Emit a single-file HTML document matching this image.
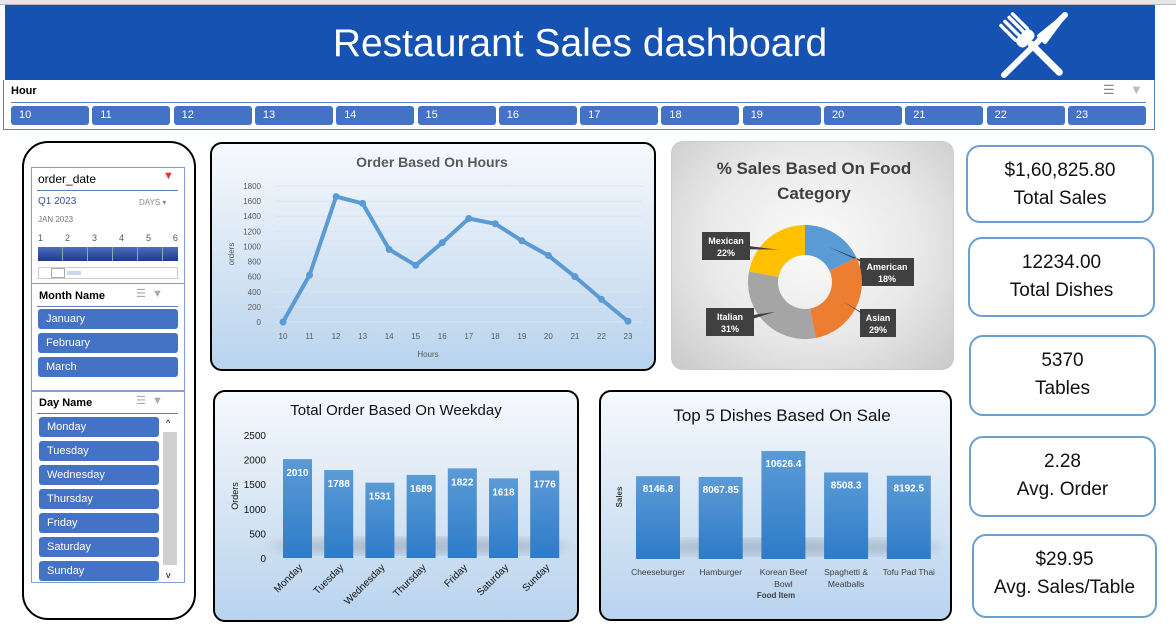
<!DOCTYPE html>
<html><head><meta charset="utf-8">
<style>
*{box-sizing:border-box;margin:0;padding:0}
body{width:1176px;height:632px;background:#fff;font-family:"Liberation Sans",sans-serif;position:relative;overflow:hidden}
.abs{position:absolute}
.btn{position:absolute;background:#4472c4;color:#fff;font-size:11px;border-radius:3px;padding-left:8px}
.kpi{position:absolute;border:2px solid #6a9fd0;border-radius:14px;text-align:center;font-size:19px;color:#111;line-height:28px;padding-top:10px}
.card{position:absolute;border:2px solid #000;border-radius:12px;background:linear-gradient(#f6f9fd,#dbe8f5 45%,#b8d3ee)}
.slabel{font-size:11px;font-weight:bold}
</style></head>
<body>
<div class="abs" style="left:0;top:0;width:1176px;height:5px;background:#e6e6e6;border-bottom:1px solid #bbb"></div>
<div class="abs" style="left:5px;top:5px;width:1150px;height:75px;background:#1652b2"></div>
<div class="abs" style="left:5px;top:19px;width:1150px;text-align:center;color:#fff;font-size:39px;line-height:50px">Restaurant Sales dashboard</div>
<svg class="abs" style="left:995px;top:8px" width="80" height="72" viewBox="0 0 80 72">
<g fill="#fff" stroke="#fff" stroke-linecap="round">
<line x1="70" y1="7" x2="9" y2="67" stroke-width="6"/>
<path d="M70 7 L50 34 L44 28 Z" stroke-width="4" stroke-linejoin="round"/>
<g transform="translate(36,36) rotate(-45)">
<line x1="0" y1="0" x2="0" y2="40" stroke-width="7"/>
<rect x="-10" y="-14" width="20" height="12" rx="5" stroke="none"/>
<rect x="-10" y="-36" width="3.5" height="24" rx="1.5" stroke="none"/>
<rect x="-4.2" y="-36" width="3.5" height="24" rx="1.5" stroke="none"/>
<rect x="1.6" y="-36" width="3.5" height="24" rx="1.5" stroke="none"/>
<rect x="6.5" y="-36" width="3.5" height="24" rx="1.5" stroke="none"/>
</g>
</g></svg>

<div class="abs" style="left:3px;top:80px;width:1152px;height:50px;border:1px solid #5b7fb8;border-top:none;background:#fff"></div>
<div class="abs slabel" style="left:11px;top:85px">Hour</div>
<div class="abs" style="left:1103px;top:82px;font-size:13px;color:#888">☰</div>
<div class="abs" style="left:1130px;top:82px;font-size:13px;color:#bbb">▼</div>
<div class="abs" style="left:11px;top:102px;width:1135px;height:1px;background:#5b7fb8"></div>
<div id="hours"></div>

<div class="abs" style="left:22px;top:141px;width:174px;height:479px;border:2px solid #000;border-radius:26px"></div>
<div class="abs" style="left:31px;top:167px;width:154px;height:117px;border:1px solid #7f9fd0"></div>
<div class="abs" style="left:38px;top:172px;font-size:12px">order_date</div>
<div class="abs" style="left:163px;top:170px;font-size:11px;color:#d33">▼</div>
<div class="abs" style="left:37px;top:190px;width:141px;height:1px;background:#5b7fb8"></div>
<div class="abs" style="left:38px;top:196px;font-size:10px;color:#2f5597">Q1 2023</div>
<div class="abs" style="left:139px;top:198px;font-size:8px;color:#888">DAYS ▾</div>
<div class="abs" style="left:38px;top:215px;font-size:8px;color:#777">JAN 2023</div>
<div class="abs" style="left:38px;top:233px;width:140px;font-size:9px;color:#555;display:flex;justify-content:space-between"><span>1</span><span>2</span><span>3</span><span>4</span><span>5</span><span>6</span></div>
<div class="abs" style="left:38px;top:247px;width:140px;height:14px;background:linear-gradient(#4a6fc0,#1e3a8a);background-image:linear-gradient(90deg,transparent 24px,#8aa 24px,#8aa 25px,transparent 25px),linear-gradient(#4a6fc0,#1e3a8a);background-size:25px 14px,100% 100%"></div>
<div class="abs" style="left:38px;top:267px;width:140px;height:12px;border:1px solid #ccc"><div style="position:absolute;left:12px;top:0;width:14px;height:10px;border:1px solid #aaa;background:#fff"></div><div style="position:absolute;left:28px;top:3px;width:14px;height:4px;background:#c8d8f0"></div></div>

<div class="abs" style="left:31px;top:284px;width:154px;height:107px;border:1px solid #7f9fd0;border-top:none"></div>
<div class="abs slabel" style="left:39px;top:290px">Month Name</div>
<div class="abs" style="left:136px;top:287px;font-size:11px;color:#aaa">☰ &nbsp;▼</div>
<div class="abs" style="left:37px;top:306px;width:141px;height:1px;background:#5b7fb8"></div>
<div id="months"></div>

<div class="abs" style="left:31px;top:391px;width:154px;height:192px;border:1px solid #7f9fd0"></div>
<div class="abs slabel" style="left:39px;top:397px">Day Name</div>
<div class="abs" style="left:136px;top:394px;font-size:11px;color:#aaa">☰ &nbsp;▼</div>
<div class="abs" style="left:37px;top:413px;width:141px;height:1px;background:#5b7fb8"></div>
<div class="abs" style="left:163px;top:418px;width:14px;height:162px;background:#fff"><div style="position:absolute;top:14px;left:0;width:14px;height:133px;background:#d0d0d0"></div><div style="position:absolute;top:0;left:3px;font-size:9px">^</div><div style="position:absolute;bottom:0;left:3px;font-size:9px">v</div></div>
<div id="days"></div>

<div class="card" style="left:210px;top:142px;width:446px;height:229px"></div>
<div class="card" style="left:671px;top:141px;width:283px;height:229px;border:1px solid #ccc;background:radial-gradient(ellipse at 50% 45%,#fbfbfb,#e8e8e8 55%,#c9c9c9)"></div>
<div class="card" style="left:213px;top:390px;width:366px;height:232px"></div>
<div class="card" style="left:599px;top:390px;width:353px;height:231px"></div>

<svg id="charts" class="abs" style="left:0;top:0" width="1176" height="632"></svg>

<div class="kpi" style="left:966px;top:145px;width:188px;height:78px">$1,60,825.80<br>Total Sales</div>
<div class="kpi" style="left:968px;top:237px;width:187px;height:80px">12234.00<br>Total Dishes</div>
<div class="kpi" style="left:969px;top:335px;width:187px;height:81px">5370<br>Tables</div>
<div class="kpi" style="left:969px;top:436px;width:187px;height:81px">2.28<br>Avg. Order</div>
<div class="kpi" style="left:972px;top:534px;width:185px;height:84px">$29.95<br>Avg. Sales/Table</div>

<script>
const hourCats=[10,11,12,13,14,15,16,17,18,19,20,21,22,23];
const hourOrders=[0,620,1660,1570,960,750,1050,1370,1300,1075,880,600,300,10];
const hourTicks=[0,200,400,600,800,1000,1200,1400,1600,1800];
const dayCats=["Monday","Tuesday","Wednesday","Thursday","Friday","Saturday","Sunday"];
const dayOrders=[2010,1788,1531,1689,1822,1618,1776];
const dayTicks=[0,500,1000,1500,2000,2500];
const dishCats=[["Cheeseburger"],["Hamburger"],["Korean Beef","Bowl"],["Spaghetti &","Meatballs"],["Tofu Pad Thai"]];
const dishSales=[8146.8,8067.85,10626.4,8508.3,8192.5];
const dishLabels=["8146.8","8067.85","10626.4","8508.3","8192.5"];
const pieCats=["American","Asian","Italian","Mexican"];
const piePct=[18,29,31,22];
const monthCats=["January","February","March"];

const NS="http://www.w3.org/2000/svg";
const svg=document.getElementById('charts');
function mk(tag,attrs,parent,text){const e=document.createElementNS(NS,tag);for(const k in attrs)e.setAttribute(k,attrs[k]);if(text!==undefined)e.textContent=text;(parent||svg).appendChild(e);return e;}

const hc=document.getElementById('hours');
hourCats.forEach((h,i)=>{const d=document.createElement('div');d.className='btn';


d.style.cssText=`left:${11+i*81.3}px;top:106px;width:78px;height:19px;line-height:19px`;d.textContent=h;hc.appendChild(d);});
const mc=document.getElementById('months');
monthCats.forEach((m,i)=>{const d=document.createElement('div');d.className='btn';


d.style.cssText=`left:38px;top:${309+i*24}px;width:140px;height:20px;line-height:20px`;d.textContent=m;mc.appendChild(d);});
const dc=document.getElementById('days');
dayCats.forEach((m,i)=>{const d=document.createElement('div');d.className='btn';


d.style.cssText=`left:39px;top:${417+i*24}px;width:120px;height:20px;line-height:20px`;d.textContent=m;dc.appendChild(d);});

const defs=mk('defs',{});
const lg=mk('linearGradient',{id:'barg',x1:0,y1:0,x2:0,y2:1},defs);
mk('stop',{offset:'0','stop-color':'#5b9bd5'},lg);mk('stop',{offset:'1','stop-color':'#2e7bc9'},lg);
const sh=mk('filter',{id:'blur'},defs);mk('feGaussianBlur',{stdDeviation:'5'},sh);

const hg=mk('g',{});


mk('text',{x:432,y:167,'text-anchor':'middle','font-size':14,'font-weight':'bold',fill:'#595959'},hg,'Order Based On Hours');
const hx=i=>283+i*(628-283)/13, hy=v=>322-v*(136/1800);
hourTicks.forEach(t=>{mk('line',{x1:275,x2:642,y1:hy(t),y2:hy(t),stroke:'#d9e4f0','stroke-width':1},hg);
mk('text',{x:261,y:hy(t)+3,'text-anchor':'end','font-size':8,fill:'#595959'},hg,t);});
hourCats.forEach((c,i)=>mk('text',{x:hx(i),y:339,'text-anchor':'middle','font-size':8,fill:'#595959'},hg,c));
mk('text',{x:428,y:357,'text-anchor':'middle','font-size':8,fill:'#595959'},hg,'Hours');
mk('text',{x:234,y:254,'text-anchor':'middle','font-size':8,fill:'#595959',transform:'rotate(-90 234 254)'},hg,'orders');
const pts=hourOrders.map((v,i)=>hx(i)+','+hy(v)).join(' ');
const pl=mk('polyline',{points:pts,fill:'none',stroke:'#5b9bd5','stroke-width':4,'stroke-linejoin':'round'},hg);

hourOrders.forEach((v,i)=>{const c=mk('circle',{cx:hx(i),cy:hy(v),r:3.5,fill:'#5b9bd5'},hg);

});

const pg=mk('g',{});


mk('text',{x:814,y:174,'text-anchor':'middle','font-size':17,'font-weight':'bold',fill:'#404040'},pg,'% Sales Based On Food');
mk('text',{x:814,y:199,'text-anchor':'middle','font-size':17,'font-weight':'bold',fill:'#404040'},pg,'Category');
const colors=['#5b9bd5','#ed7d31','#a5a5a5','#ffc000'];
const cx=805,cy=282,R=57,r0=27;
const tot=piePct.reduce((a,b)=>a+b,0);let a0=0;
const labPos=[[887,272],[878,323],[730,322],[726,246]];
piePct.forEach((p,i)=>{const a1=a0+p/tot*2*Math.PI;
const P=(a,rr)=>[cx+rr*Math.sin(a),cy-rr*Math.cos(a)];
const [x1,y1]=P(a0,R),[x2,y2]=P(a1,R),[x3,y3]=P(a1,r0),[x4,y4]=P(a0,r0);const lf=(a1-a0)>Math.PI?1:0;
const s=mk('path',{d:`M${x1},${y1}A${R},${R} 0 ${lf} 1 ${x2},${y2}L${x3},${y3}A${r0},${r0} 0 ${lf} 0 ${x4},${y4}Z`,fill:colors[i]},pg);


const [mx,my]=P((a0+a1)/2,(R+r0)/2);const [lx,ly]=labPos[i];
mk('path',{d:`M${mx},${my}L${lx-3},${ly-3}L${lx+3},${ly+3}Z`,fill:'#404040'},pg);
const w=pieCats[i].length*6+6;
mk('rect',{x:lx-w/2,y:ly-14,width:w,height:28,fill:'#404040'},pg);
mk('text',{x:lx,y:ly-2,'text-anchor':'middle','font-size':9,'font-weight':'bold',fill:'#fff'},pg,pieCats[i]);
mk('text',{x:lx,y:ly+10,'text-anchor':'middle','font-size':9,'font-weight':'bold',fill:'#fff'},pg,p+'%');
a0=a1;});

const wg=mk('g',{});


mk('text',{x:396,y:415,'text-anchor':'middle','font-size':15,fill:'#111'},wg,'Total Order Based On Weekday');
const wy=v=>558-v*(123/2500), wx=i=>283+i*41.2;
mk('ellipse',{cx:420,cy:546,rx:150,ry:8,fill:'#7f8fa0',opacity:.45,filter:'url(#blur)'},wg);
dayTicks.forEach(t=>mk('text',{x:266,y:wy(t)+4,'text-anchor':'end','font-size':10,fill:'#111'},wg,t));
mk('text',{x:238,y:496,'text-anchor':'middle','font-size':9,fill:'#111',transform:'rotate(-90 238 496)'},wg,'Orders');
dayOrders.forEach((v,i)=>{const b=mk('rect',{x:wx(i),y:wy(v),width:29,height:558-wy(v),fill:'url(#barg)'},wg);


mk('text',{x:wx(i)+14.5,y:wy(v)+17,'text-anchor':'middle','font-size':10,'font-weight':'bold',fill:'#fff'},wg,v);
const tx=wx(i)+20,ty=568;
mk('text',{x:tx,y:ty,'text-anchor':'end','font-size':10,fill:'#111',transform:`rotate(-45 ${tx} ${ty})`},wg,dayCats[i]);});

const dg=mk('g',{});


mk('text',{x:782,y:421,'text-anchor':'middle','font-size':17,fill:'#111'},dg,'Top 5 Dishes Based On Sale');
const dy=v=>559-v*(122/12000), dx=i=>636+i*62.7;
mk('ellipse',{cx:790,cy:547,rx:150,ry:8,fill:'#7f8fa0',opacity:.45,filter:'url(#blur)'},dg);
mk('text',{x:622,y:497,'text-anchor':'middle','font-size':8,'font-weight':'bold',fill:'#404040',transform:'rotate(-90 622 497)'},dg,'Sales');
dishSales.forEach((v,i)=>{const b=mk('rect',{x:dx(i),y:dy(v),width:44,height:559-dy(v),fill:'url(#barg)'},dg);


mk('text',{x:dx(i)+22,y:dy(v)+16,'text-anchor':'middle','font-size':10,'font-weight':'bold',fill:'#fff'},dg,dishLabels[i]);
dishCats[i].forEach((ln,j)=>mk('text',{x:dx(i)+22,y:575+j*12,'text-anchor':'middle','font-size':8.5,fill:'#404040'},dg,ln));});
mk('text',{x:776,y:598,'text-anchor':'middle','font-size':8,'font-weight':'bold',fill:'#404040'},dg,'Food Item');
</script>
</body></html>
